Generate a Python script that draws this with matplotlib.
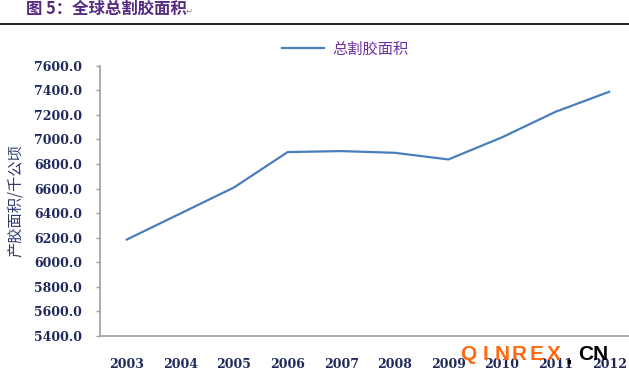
import matplotlib
matplotlib.use("Agg")
import matplotlib.pyplot as plt
from matplotlib.lines import Line2D

plt.rcParams['font.family'] = ['Noto Sans CJK SC', 'DejaVu Sans']

# data
years = ['2003', '2004', '2005', '2006', '2007', '2008', '2009', '2010', '2011', '2012']
area = [6185, 6397, 6609, 6897, 6905, 6891, 6837, 7017, 7225, 7388]
y_ticks = [5400, 5600, 5800, 6000, 6200, 6400, 6600, 6800, 7000, 7200, 7400, 7600]

title = '图 5：全球总割胶面积'
series_name = '总割胶面积'
y_label = '产胶面积/千公顷'

W, H = 629, 375
fig = plt.figure(figsize=(W / 100, H / 100), dpi=100)
fig.patch.set_facecolor('white')

# title bar with rule underneath
fig.text(26 / W, 1 - 9 / H, title, fontsize=11.8, fontweight='bold',
         color='#562A80', va='center', ha='left')
fig.text(186 / W, 1 - 11 / H, '\u21b5', fontsize=6, color='#888888',
         va='center', ha='left', family=['DejaVu Sans'])
fig.add_artist(Line2D([0, 1], [1 - 24 / H, 1 - 24 / H], color='black', linewidth=1.2))

ax = fig.add_axes([100 / W, 39 / H, 536 / W, 270.3 / H])
x = list(range(len(years)))
ax.plot(x, area, color='#4A7EBB', linewidth=1.6, solid_joinstyle='round')

ax.set_xlim(-0.5, len(years) - 0.5)
ax.set_ylim(5400, 7600)
ax.set_yticks(y_ticks)
ax.set_yticklabels([f'{v:.1f}' for v in y_ticks])
ax.set_xticks(x)
ax.set_xticklabels(years)

for lbl in ax.get_yticklabels() + ax.get_xticklabels():
    lbl.set_fontfamily(['DejaVu Serif'])
    lbl.set_fontsize(9)
    lbl.set_fontweight('bold')
    lbl.set_color('#1F2A5C')

ax.tick_params(axis='y', direction='out', length=3, width=1, color='#A0A0A0', pad=10)
ax.tick_params(axis='x', length=0, pad=16)

for side in ['top', 'right']:
    ax.spines[side].set_visible(False)
for side in ['left', 'bottom']:
    ax.spines[side].set_color('#A0A0A0')
    ax.spines[side].set_linewidth(1.2)

ax.set_ylabel(y_label, fontsize=11, color='#2F3B6B')
ax.yaxis.set_label_coords(-76 / 536, 0.50)

# legend
leg = ax.legend([series_name], loc='center', bbox_to_anchor=(345 / W, 1 - 49 / H),
                bbox_transform=fig.transFigure, frameon=False, handlelength=2.8,
                handletextpad=0.5, prop={'size': 11})
for t in leg.get_texts():
    t.set_color('#7030A0')

# watermark
for i, ch in enumerate('QINREX'):
    fig.text((468 + i * 17.2) / W, 1 - 354 / H, ch, fontsize=15, fontweight='bold',
             color='#FF6A10', ha='center', va='center', family=['Liberation Sans'])
fig.text(569 / W, 1 - 357 / H, '.', fontsize=17, fontweight='bold', color='black',
         ha='center', va='center', family=['Liberation Sans'])
fig.text(593 / W, 1 - 354 / H, 'CN', fontsize=15, fontweight='bold', color='black',
         ha='center', va='center', family=['Liberation Sans'])

fig.savefig('out.png', dpi=100)
